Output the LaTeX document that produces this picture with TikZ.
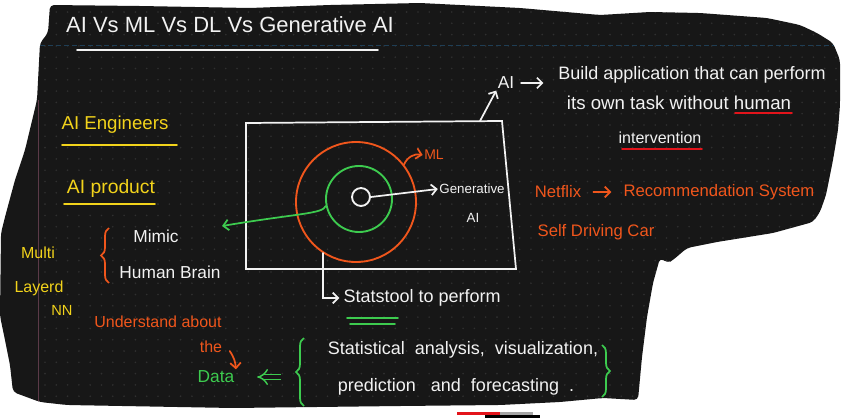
\documentclass[tikz,border=0pt]{standalone}
\usepackage{fontspec}
\setmainfont{Liberation Sans}
\usepackage{tikz}
\usetikzlibrary{arrows.meta, decorations.pathreplacing, calc}

\definecolor{board}{HTML}{171717}
\definecolor{chalk}{HTML}{F2F2F2}
\definecolor{marker}{HTML}{F2D31B}
\definecolor{tangerine}{HTML}{F0561C}
\definecolor{leaf}{HTML}{3DCB4F}
\definecolor{inkred}{HTML}{E3141B}
\definecolor{griddot}{HTML}{303030}
\definecolor{marginline}{HTML}{5B3A48}
\definecolor{ruleblue}{HTML}{1F3E55}

\newcommand{\handsize}[1]{\fontsize{#1}{#1}\selectfont}

\begin{document}
\begin{tikzpicture}[
    x=0.75pt, y=-0.75pt,
    hand/.style={
        inner sep=1pt,
        text=chalk,
        font=\handsize{13pt}
    },
    yellowhand/.style={hand, text=marker},
    orangehand/.style={hand, text=tangerine},
    greenhand/.style={hand, text=leaf},
    ring/.style={
        circle,
        draw,
        line width=1.4pt,
        inner sep=0pt
    },
    inkline/.style={draw=chalk, line width=1.3pt, line cap=round},
    arrow/.style={
        -{Straight Barb[length=4pt, width=8pt]}
    },
    brc/.style={decorate, decoration={brace, amplitude=6pt}, line width=1.3pt}
]
\useasboundingbox (0,0) rectangle (844,418);
\fill[white] (0,0) rectangle (844,418);

% === Paper under the page ===
\fill[inkred] (457,412) rectangle (500,415);
\fill[gray!70] (500,412) rectangle (533,415);
\fill[black] (485,415) rectangle (540,418);

% === Torn page ===
\fill[board, rounded corners=3pt, path picture={
    \foreach \gx in {45,56.3,...,840}
        \foreach \gy in {12,23.3,...,405}
            \fill[griddot] (\gx,\gy) circle[radius=0.9];
    \draw[ruleblue, line width=0.6pt, dash pattern=on 4pt off 2pt] (40,45) -- (838,45);
    \draw[marginline, line width=0.6pt] (38,100) -- (38,405);
}] (50,5) -- (140,6) -- (250,8) -- (330,5) -- (420,3) -- (520,8) -- (600,15)
    -- (650,12) -- (700,13) -- (767,18) -- (800,25) -- (817,33) -- (833,43)
    -- (840,60) -- (840,105) -- (838,130) -- (833,160) -- (826,195) -- (820,212)
    -- (813,222) -- (773,233) -- (717,242) -- (687,248) -- (673,260) -- (668,263)
    -- (660,258) -- (653,283) -- (647,317) -- (642,357) -- (638,400) -- (603,398)
    -- (560,402) -- (500,405) -- (400,406) -- (233,408) -- (67,405) -- (40,402)
    -- (13,392) -- (10,365) -- (5,340) -- (0,316) -- (1,233) -- (5,217) -- (15,180)
    -- (25,150) -- (37,100) -- (40,43) -- (48,33) -- cycle;

% === Title ===
\node[hand, font=\handsize{16.5pt}] (title) at (230,25) {AI Vs ML Vs DL Vs Generative AI};
\draw[inkline] (77,50) -- (378,50);

% === Left notes ===
\node[yellowhand, font=\handsize{14pt}] (engineers) at (115,125) {AI Engineers};
\draw[inkline, draw=marker] (62,145) -- (177,145);
\node[yellowhand, font=\handsize{14.5pt}] (product) at (111,188) {AI product};
\draw[inkline, draw=marker] (64,204) -- (155,204);

\node[hand] (mimic) at (156,236) {Mimic};
\node[hand] (brain) at (170,272) {Human Brain};
\draw[brc, draw=tangerine] (109,283) -- (109,228);

\node[yellowhand, font=\handsize{12pt}] (multi) at (38,253) {Multi};
\node[yellowhand, font=\handsize{12pt}] (layerd) at (39,288) {Layerd};
\node[yellowhand, font=\handsize{11pt}] (nn) at (62,310) {NN};

\node[orangehand, font=\handsize{12pt}] (understand) at (158,322) {Understand about};
\node[orangehand, font=\handsize{12pt}] (the) at (211,347) {the};
\node[greenhand] (data) at (216,377) {Data};

% === AI box with rings ===
\draw[inkline] (246,123) -- (502,121) -- (516,269) -- (246,269) -- cycle;
\node[ring, draw=tangerine, minimum size=90pt] (outer) at (356,202) {};
\node[ring, draw=leaf, minimum size=49.5pt] (mid) at (359,199) {};
\node[ring, draw=chalk, minimum size=13.5pt] (core) at (361,197) {};

\node[hand, font=\handsize{10pt}] (gen) at (472,189) {Generative};
\node[hand, font=\handsize{10pt}] (genai) at (473,218) {AI};
\node[orangehand, font=\handsize{10.5pt}] (ml) at (434,155) {ML};

\draw[inkline, arrow] (core.east) -- (gen.west);
\draw[inkline, draw=tangerine, arrow] (outer.38) to[bend left=40] (ml.west);

\coordinate (mimicpoint) at (222,226);
\draw[inkline, draw=leaf, arrow] (mid.192) .. controls (322,214) and (300,213) .. (mimicpoint);

% === Statistics ===
\node[hand, font=\handsize{13.5pt}, anchor=west] (stat) at (342,298) {Statstool to perform};
\draw[inkline, arrow, shorten >=2pt] (outer.237) |- (stat.west);
\draw[inkline, draw=leaf] (347,318) -- (398,318);
\draw[inkline, draw=leaf] (350,324) -- (395,324);

\node[hand, font=\handsize{13.5pt}] (analysis) at (463,350) {Statistical\ \ analysis,\ \ visualization,};
\node[hand, font=\handsize{13.5pt}] (forecast) at (456,387) {prediction\ \ \ and\ \ forecasting\ \ .};
\draw[brc, draw=leaf] (304,406) -- (304,338);
\draw[brc, draw=leaf] (602,345) -- (602,397);

\coordinate (datafrom) at (281,377);
\draw[draw=leaf, double=board, double distance=3pt, line width=1.1pt, -{Implies}, shorten >=16pt] (datafrom) -- (data.east);
\draw[inkline, draw=tangerine, arrow] ($(the.east)+(6,4)$) to[bend left=15] (data.north east);

% === AI definition ===
\coordinate (boxtop) at (480,121);
\node[hand] (ai) at (506,83) {AI};
\draw[inkline, arrow] (boxtop) -- (ai.south west);
\node[hand, font=\handsize{13.5pt}] (build) at (692,75) {Build application that can perform};
\draw[inkline, arrow, shorten <=4pt, shorten >=10pt] (ai.east) -- (ai.east -| build.west);
\node[hand, font=\handsize{14pt}] (task) at (679,103) {its own task without human};
\draw[inkline, draw=inkred] (735,113) -- (792,113);
\node[hand, font=\handsize{12pt}] (interv) at (660,138) {intervention};
\draw[inkline, draw=inkred] (622,149) -- (702,149);

% === Examples ===
\node[orangehand, font=\handsize{12.5pt}] (netflix) at (558,192) {Netflix};
\node[orangehand, font=\handsize{12.5pt}] (recsys) at (719,192) {Recommendation System};
\draw[inkline, draw=tangerine, arrow, shorten <=8pt, shorten >=8pt] (netflix.east) -- (recsys.west);
\node[orangehand, font=\handsize{12.5pt}] (selfdrive) at (596,232) {Self Driving Car};
\end{tikzpicture}
\end{document}
